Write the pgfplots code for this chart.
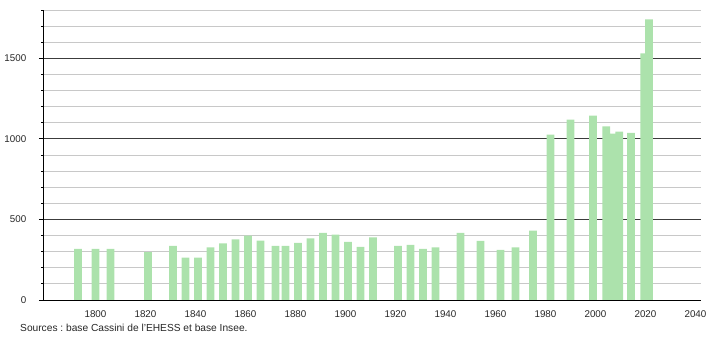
\documentclass[border=0pt]{standalone}
\usepackage{pgfplots}
\pgfplotsset{compat=1.18}
\usepackage{fontspec}
\setmainfont{Liberation Sans}
\frenchspacing
\definecolor{barc}{RGB}{172,226,172}
\definecolor{minorg}{RGB}{200,200,200}
\definecolor{majorg}{RGB}{60,60,60}
\begin{document}
\begin{tikzpicture}[x=1pt,y=1pt]
\useasboundingbox (0,0) rectangle (710,340);
\begin{axis}[
  at={(43.5pt,40pt)}, anchor=south west,
  scale only axis, width=657.2pt, height=290pt,
  xmin=1779.2, xmax=2042.1, ymin=0, ymax=1800,
  axis x line*=bottom, axis y line*=left,
  axis line style={black, line width=0.9pt},
  xtick={1800,1820,...,2040},
  x tick style={draw=none},
  ytick={0,500,1000,1500},
  minor ytick={100,200,300,400,600,700,800,900,1100,1200,1300,1400,1600,1700,1800},
  tick align=outside,
  major tick length=4.5pt, minor tick length=2pt,
  y tick style={black, line width=0.8pt},
  ymajorgrids, yminorgrids,
  major grid style={majorg, line width=0.9pt},
  minor grid style={minorg, line width=0.9pt},
  /pgf/number format/assume math mode=true,
  /pgf/number format/1000 sep={},
  tick label style={font=\fontsize{9.8}{10}\selectfont, text=black!85},
  xticklabel style={anchor=north, inner sep=0pt, yshift=-6pt},
  yticklabel style={anchor=east, inner sep=0pt, xshift=-12.5pt},
  clip=false,
]
\addplot[ybar, bar width=3.1, fill=barc, draw=none] coordinates {
(1793,318) (1800,318) (1806,318) (1821,297) (1831,336) (1836,263)
(1841,263) (1846,326) (1851,351) (1856,376) (1861,399) (1866,369)
(1872,336) (1876,336) (1881,355) (1886,382) (1891,417) (1896,405)
(1901,361) (1906,330) (1911,388) (1921,336) (1926,342) (1931,318)
(1936,326) (1946,417) (1954,367) (1962,311) (1968,326) (1975,430)
(1982,1026) (1990,1120) (1999,1144) (2004.3,1078) (2006.7,1033)
(2009.5,1045) (2014.2,1037) (2019.5,1530) (2021.4,1742)
};
\end{axis}
\node[anchor=base west, inner sep=0pt, font=\fontsize{10.2}{12}\selectfont, text=black!85] at (20,8) {Sources : base Cassini de l'EHESS et base Insee.};
\end{tikzpicture}
\end{document}
